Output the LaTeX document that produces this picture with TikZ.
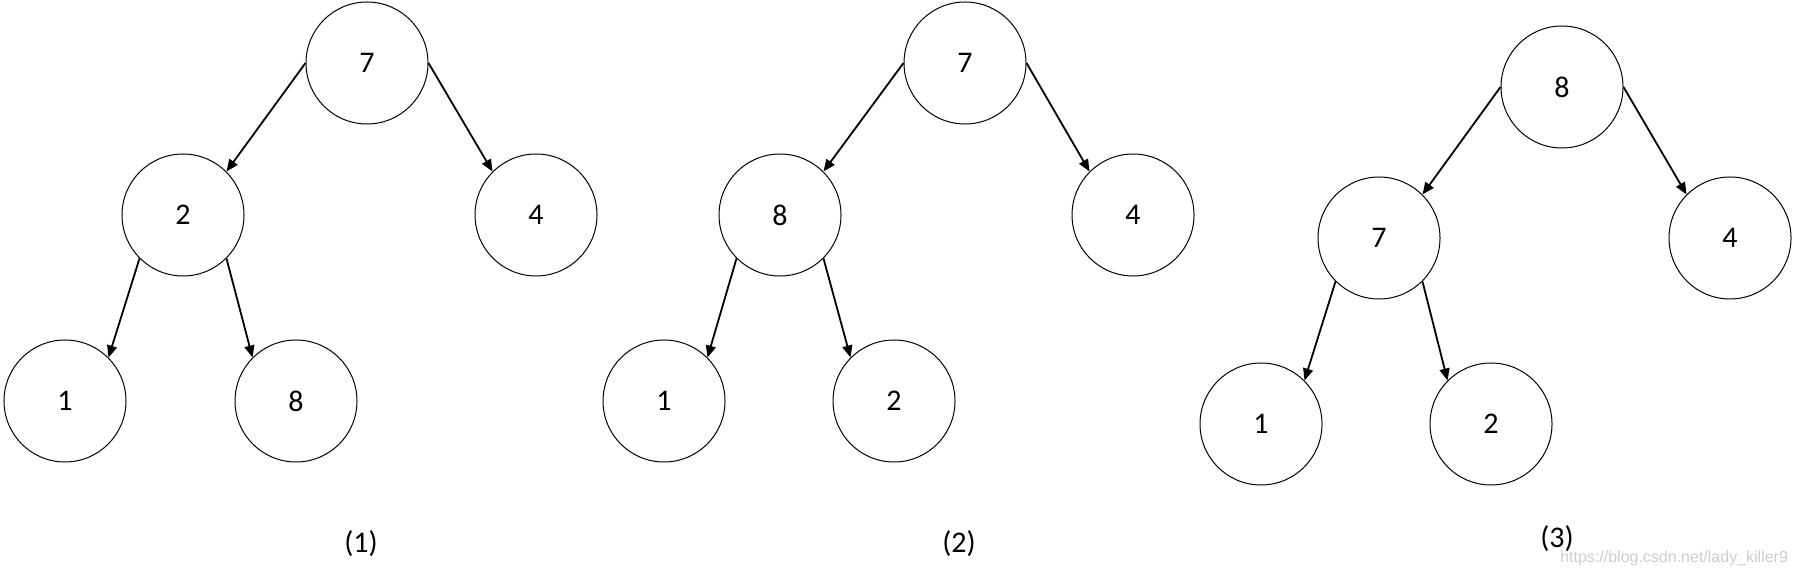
\documentclass[tikz,border=0pt]{standalone}
\usepackage{fontspec}
\setmainfont{Carlito}
\newfontfamily\markfont{Liberation Sans}
\usepackage{tikz}
\usetikzlibrary{arrows.meta}
\definecolor{markgray}{RGB}{205,205,205}

\begin{document}
\begin{tikzpicture}[x=0.5pt,y=-0.5pt,
  heapnode/.style={draw, circle, line width=0.5pt, minimum size=61pt, inner sep=0pt, font=\fontsize{15}{18}\selectfont},
  heapedge/.style={-{Triangle[length=6pt,width=5pt]}, line width=0.9pt},
  caption/.style={font=\fontsize{15}{18}\selectfont}]
\useasboundingbox (0,0) rectangle (1797,576);
% Tree (1)
\node[heapnode] (a7) at (367,63) {7};
\node[heapnode] (a2) at (183,215) {2};
\node[heapnode] (a4) at (536,215) {4};
\node[heapnode] (a1) at (65,401) {1};
\node[heapnode] (a8) at (296,401) {8};
\draw[heapedge] (a7.west) -- (a2.north east);
\draw[heapedge] (a7.east) -- (a4.north west);
\draw[heapedge] (a2.south west) -- (a1.north east);
\draw[heapedge] (a2.south east) -- (a8.north west);
\node[caption] (capa) at (361,544) {(1)};
% Tree (2)
\node[heapnode] (b7) at (965,63) {7};
\node[heapnode] (b8) at (780,215) {8};
\node[heapnode] (b4) at (1133,215) {4};
\node[heapnode] (b1) at (664,401) {1};
\node[heapnode] (b2) at (894,401) {2};
\draw[heapedge] (b7.west) -- (b8.north east);
\draw[heapedge] (b7.east) -- (b4.north west);
\draw[heapedge] (b8.south west) -- (b1.north east);
\draw[heapedge] (b8.south east) -- (b2.north west);
\node[caption] (capb) at (959,544) {(2)};
% Tree (3)
\node[heapnode] (c8) at (1562,87) {8};
\node[heapnode] (c7) at (1379,238) {7};
\node[heapnode] (c4) at (1730,238) {4};
\node[heapnode] (c1) at (1261,424) {1};
\node[heapnode] (c2) at (1491,424) {2};
\draw[heapedge] (c8.west) -- (c7.north east);
\draw[heapedge] (c8.east) -- (c4.north west);
\draw[heapedge] (c7.south west) -- (c1.north east);
\draw[heapedge] (c7.south east) -- (c2.north west);
\node[caption] (capc) at (1557,539) {(3)};
% watermark
\node[font=\markfont\fontsize{8}{9}\selectfont, text=markgray, anchor=east] (mark) at (1795,558) {https://blog.csdn.net/lady\_killer9};
\end{tikzpicture}
\end{document}
